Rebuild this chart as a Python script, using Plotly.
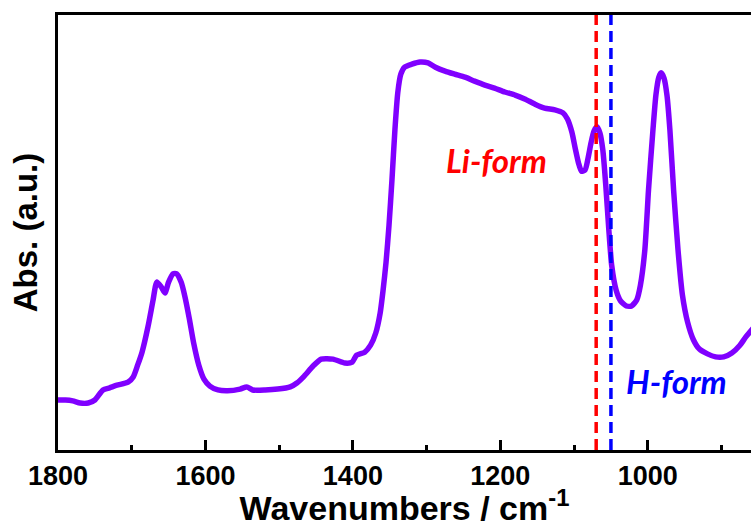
import plotly.graph_objects as go

# FTIR spectrum (wavenumber in cm-1, absorbance in arbitrary units)
wavenumber = [
    1800, 1790, 1780, 1770, 1759, 1750, 1739, 1730, 1720, 1705, 1698, 1692, 1686,
    1678, 1671, 1666, 1660, 1655, 1650, 1644, 1639, 1633, 1628, 1622, 1616, 1609,
    1602, 1594, 1583, 1570, 1553, 1544, 1536, 1519, 1502, 1485, 1476, 1466, 1454,
    1443, 1427, 1411, 1401, 1395, 1384, 1376, 1369, 1363, 1359, 1355, 1351, 1347,
    1343, 1339, 1335, 1330, 1320, 1309, 1298, 1288, 1275, 1262, 1248, 1235, 1221,
    1208, 1194, 1180, 1167, 1153, 1140, 1126, 1115, 1109, 1103, 1098, 1094, 1090,
    1085, 1081, 1077, 1073, 1069, 1065, 1061, 1057, 1053, 1049, 1043, 1037, 1029,
    1022, 1015, 1010, 1004, 999, 993, 989, 985, 982, 978, 974, 970, 965, 959, 953,
    946, 938, 930, 919, 908, 897, 886, 875, 867, 860, 850,
]
absorbance = [
    0.115, 0.115, 0.113, 0.108, 0.108, 0.115, 0.138, 0.143, 0.149, 0.156, 0.168,
    0.195, 0.225, 0.283, 0.345, 0.386, 0.375, 0.361, 0.386, 0.405, 0.405, 0.386,
    0.354, 0.303, 0.246, 0.195, 0.163, 0.147, 0.138, 0.136, 0.140, 0.145, 0.138,
    0.138, 0.140, 0.145, 0.154, 0.170, 0.193, 0.209, 0.209, 0.200, 0.202, 0.218,
    0.225, 0.241, 0.269, 0.315, 0.368, 0.432, 0.517, 0.621, 0.736, 0.823, 0.864,
    0.880, 0.887, 0.892, 0.890, 0.880, 0.871, 0.864, 0.857, 0.848, 0.839, 0.832,
    0.823, 0.816, 0.807, 0.795, 0.786, 0.782, 0.775, 0.761, 0.731, 0.690, 0.660,
    0.641, 0.644, 0.671, 0.706, 0.733, 0.743, 0.729, 0.690, 0.609, 0.510, 0.425,
    0.368, 0.343, 0.331, 0.331, 0.345, 0.379, 0.460, 0.598, 0.736, 0.816, 0.857,
    0.867, 0.855, 0.816, 0.736, 0.598, 0.460, 0.356, 0.294, 0.253, 0.232, 0.221,
    0.214, 0.214, 0.223, 0.241, 0.260, 0.274, 0.295,
]

# Reference band positions for the two forms
li_form_position = 1070
h_form_position = 1050

fig = go.Figure()
fig.add_trace(go.Scatter(
    x=wavenumber, y=absorbance, mode="lines",
    line=dict(color="#8000ff", width=5.5, shape="spline", smoothing=0.6),
    hoverinfo="skip", showlegend=False,
))

for pos, col in [(li_form_position, "#ff0000"), (h_form_position, "#0000ff")]:
    fig.add_shape(type="line", xref="x", yref="paper", x0=pos, x1=pos, y0=0, y1=1,
                  line=dict(color=col, width=3.5, dash="11px,6px"), layer="above")

fig.add_annotation(x=1205, y=0.667, text="<b><i>Li-form</i></b>", showarrow=False,
                   font=dict(family="Lato", size=33, color="#ff0000"))
fig.add_annotation(x=961, y=0.159, text="<b><i>H-form</i></b>", showarrow=False,
                   font=dict(family="Lato", size=33, color="#0000ff"))

axis_font = "Liberation Sans, Arial, sans-serif"
fig.update_layout(
    width=751, height=527,
    margin=dict(l=58, r=0, t=15, b=77),
    paper_bgcolor="white", plot_bgcolor="white",
    xaxis=dict(
        range=[1800, 860], tickmode="linear", tick0=1800, dtick=200,
        ticks="inside", ticklen=10, tickwidth=2.5, tickcolor="black",
        minor=dict(ticks="inside", ticklen=5, tickwidth=2.5, tickcolor="black", dtick=100, tick0=1800),
        showline=True, linewidth=3, linecolor="black", mirror=True,
        showgrid=False, zeroline=False,
        tickfont=dict(family=axis_font, size=27, color="black", weight="bold"),
        title=dict(text="<b>Wavenumbers / cm<sup>-1</sup></b>", standoff=6,
                   font=dict(family=axis_font, size=34, color="black")),
    ),
    yaxis=dict(
        range=[0, 1], showticklabels=False, ticks="",
        showline=True, linewidth=3, linecolor="black", mirror=False,
        showgrid=False, zeroline=False,
        title=dict(text="<b>Abs. (a.u.)</b>", standoff=8,
                   font=dict(family=axis_font, size=33, color="black")),
    ),
)

fig.write_html("out.html")
